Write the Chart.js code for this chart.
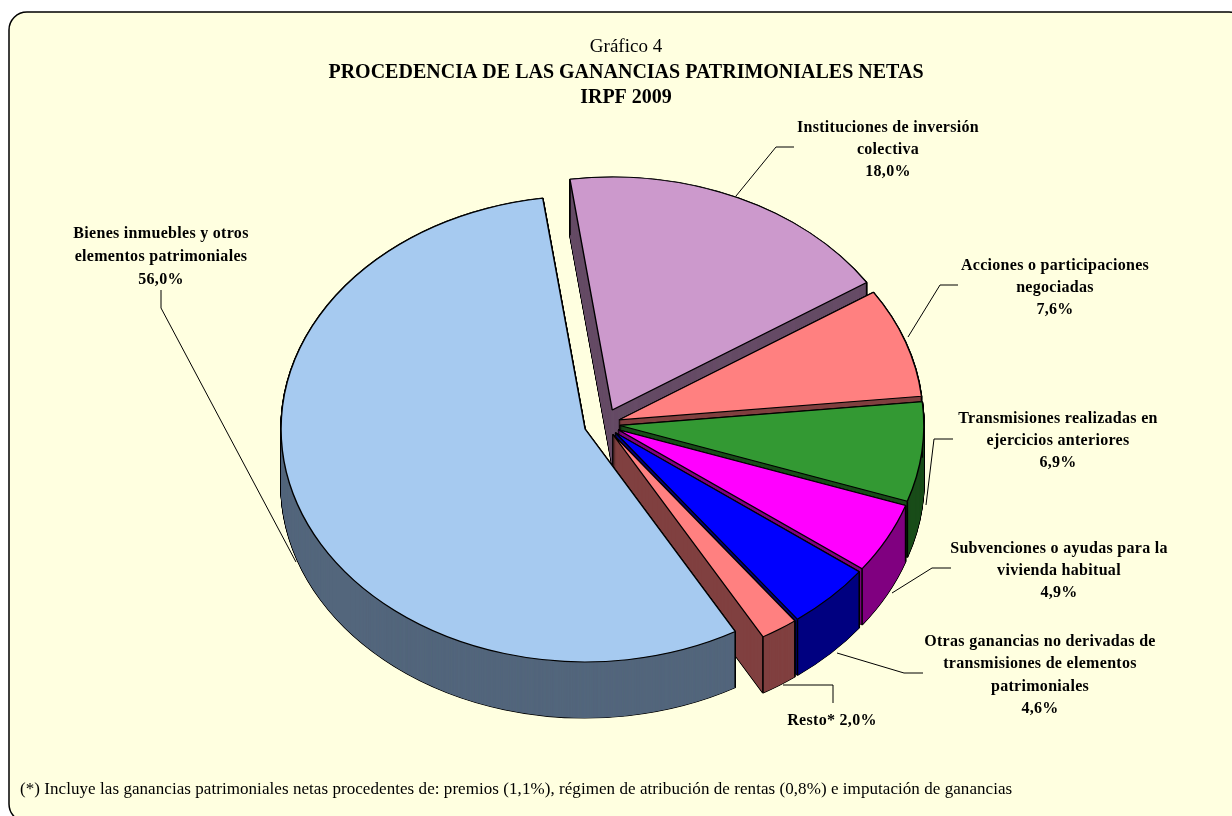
<!DOCTYPE html>
<html lang="es">
<head>
<meta charset="utf-8">
<title>Gráfico 4</title>
<script src="https://cdn.jsdelivr.net/npm/chart.js@4"></script>
<style>
  html, body { margin: 0; padding: 0; background: #fff; overflow: hidden; }
  canvas { display: block; }
</style>
</head>
<body>
<canvas id="grafico" width="1232" height="816"></canvas>
<script>
const sliceNames = [
  ['Instituciones de inversión', 'colectiva'],
  ['Acciones o participaciones', 'negociadas'],
  ['Transmisiones realizadas en', 'ejercicios anteriores'],
  ['Subvenciones o ayudas para la', 'vivienda habitual'],
  ['Otras ganancias no derivadas de', 'transmisiones de elementos', 'patrimoniales'],
  ['Resto*'],
  ['Bienes inmuebles y otros', 'elementos patrimoniales']
];
const sliceValues = [18.0, 7.6, 6.9, 4.9, 4.6, 2.0, 56.0];
const titleLine = 'Gráfico 4';
const subtitleLines = ['PROCEDENCIA DE LAS GANANCIAS PATRIMONIALES NETAS', 'IRPF 2009'];
const footnote = '(*) Incluye las ganancias patrimoniales netas procedentes de: premios (1,1%), régimen de atribución de rentas (0,8%) e imputación de ganancias';

// colores de cara y de pared de cada porción
const faceColors = ['#cc99cc', '#ff8080', '#339933', '#ff00ff', '#0000ff', '#ff8080', '#a6caf0'];
const wallColors = ['#664c66', '#804040', '#1a4d1a', '#800080', '#000080', '#804040', '#53667c'];

// geometría de la tarta en perspectiva
const explode = [20, 16, 16, 16, 16, 16, 20];
const radiusX = 304;
const radiusY = 233;
const squash = radiusY / radiusX;
const depth = 56;
const pieX = 604;
const pieY = 424;

// colocación de las etiquetas: centro x, y de cada línea, y línea guía
const labelX = [888, 1055, 1058, 1059, 1040, 832, 161];
const labelY = [128, 266, 419, 549, 642, 721, 234];
const labelStep = [22, 22, 22, 22, 22.3, 0, 23];
const leaders = [
  [[736, 196], [776, 147], [794, 147]],
  [[908, 337], [940, 285], [958, 285]],
  [[926, 505], [934, 439], [953, 439]],
  [[892, 593], [932, 568], [951, 568]],
  [[837, 653], [904, 673], [923, 673]],
  [[783, 685], [833, 685], [833, 703]],
  [[296, 562], [161, 308], [161, 290]]
];

const serif = '"Liberation Serif", "Times New Roman", serif';

function percent(v) {
  return v.toFixed(1).replace('.', ',') + '%';
}

function applyPerspective(ctx, arc) {
  ctx.translate(pieX, pieY);
  ctx.scale(1, squash);
  ctx.translate(-arc.x, -arc.y);
}

// radio extra que Chart.js añade a un arco con offset
function radiusGrowth(arc, i) {
  return explode[i] * (1 - Math.sin(Math.min(Math.PI, arc.circumference)));
}

function drawWalls(chart) {
  const ctx = chart.ctx;
  const arcs = chart.getDatasetMeta(0).data;
  arcs.forEach((arc, i) => {
    const original = arc.options;
    const outline = Object.assign({}, original, { backgroundColor: '#000', borderColor: '#000', borderWidth: 1.6 });
    const fill = Object.assign({}, original, { backgroundColor: wallColors[i], borderColor: wallColors[i], borderWidth: 0 });
    [outline, fill].forEach(opts => {
      arc.options = opts;
      for (let d = depth; d >= 0; d -= 0.5) {
        ctx.save();
        ctx.translate(0, d / squash);
        arc.draw(ctx);
        ctx.restore();
      }
    });
    arc.options = original;

    // aristas verticales de la pared
    const mid = (arc.startAngle + arc.endAngle) / 2;
    const half = arc.circumference / 2;
    const cx = arc.x + Math.cos(mid) * explode[i];
    const cy = arc.y + Math.sin(mid) * explode[i];
    ctx.strokeStyle = '#000';
    ctx.lineWidth = 1.6;
    [mid - half, mid + half].forEach(a => {
      const px = cx + Math.cos(a) * radiusX;
      const py = cy + Math.sin(a) * radiusX;
      ctx.beginPath();
      ctx.moveTo(px, py);
      ctx.lineTo(px, py + depth / squash);
      ctx.stroke();
    });
  });
}

const perspectivePie = {
  id: 'perspectivePie',
  // offset también agranda el radio y estrecha el ángulo del arco: se compensa
  // para que todas las porciones midan radiusX y conserven su ángulo
  afterDatasetsUpdate(chart) {
    chart.getDatasetMeta(0).data.forEach((arc, i) => {
      const growth = radiusGrowth(arc, i);
      const widen = growth / Math.PI / radiusX / 2;
      arc.outerRadius = radiusX - growth;
      arc.startAngle -= widen;
      arc.endAngle += widen;
    });
  },
  beforeDraw(chart) {
    const ctx = chart.ctx;
    ctx.save();
    ctx.beginPath();
    ctx.roundRect(9, 12, 1238, 810, 18);
    ctx.fillStyle = '#ffffe0';
    ctx.fill();
    ctx.strokeStyle = '#000';
    ctx.lineWidth = 1.5;
    ctx.stroke();
    ctx.restore();
  },
  beforeDatasetsDraw(chart) {
    const ctx = chart.ctx;
    ctx.save();
    applyPerspective(ctx, chart.getDatasetMeta(0).data[0]);
    drawWalls(chart);
  },
  afterDatasetsDraw(chart) {
    chart.ctx.restore();
  },
  afterDraw(chart) {
    const ctx = chart.ctx;
    ctx.save();
    ctx.strokeStyle = '#000';
    ctx.lineWidth = 1;
    leaders.forEach(points => {
      ctx.beginPath();
      points.forEach(([x, y], i) => (i ? ctx.lineTo(x, y) : ctx.moveTo(x, y)));
      ctx.stroke();
    });

    ctx.fillStyle = '#000';
    ctx.textAlign = 'center';
    ctx.textBaseline = 'middle';
    ctx.font = `bold 16px ${serif}`;
    ctx.letterSpacing = '0.3px';
    sliceNames.forEach((name, i) => {
      const pct = percent(sliceValues[i]);
      const lines = name.length === 1 ? [`${name[0]} ${pct}`] : name.concat(pct);
      lines.forEach((line, j) => ctx.fillText(line, labelX[i], labelY[i] + j * labelStep[i]));
    });

    ctx.letterSpacing = '0.06px';
    ctx.textAlign = 'left';
    ctx.font = `17px ${serif}`;
    ctx.fillText(footnote, 20, 790);
    ctx.restore();
  }
};

new Chart(document.getElementById('grafico'), {
  type: 'pie',
  data: {
    labels: sliceNames.map(n => n.join(' ')),
    datasets: [{
      data: sliceValues,
      backgroundColor: faceColors,
      borderColor: '#000',
      borderWidth: 1.4,
      radius: radiusX,
      offset: explode.map(s => s * 4)
    }]
  },
  options: {
    responsive: false,
    animation: false,
    events: [],
    rotation: -8,
    layout: { padding: { top: 35, left: 20 } },
    plugins: {
      legend: { display: false },
      tooltip: { enabled: false },
      title: {
        display: true,
        text: titleLine,
        color: '#000',
        padding: 0,
        font: { family: serif, size: 19, weight: 'normal', lineHeight: '25px' }
      },
      subtitle: {
        display: true,
        text: subtitleLines,
        color: '#000',
        padding: 0,
        font: { family: serif, size: 20, weight: 'bold', lineHeight: '25px' }
      }
    }
  },
  plugins: [perspectivePie]
});
</script>
</body>
</html>
